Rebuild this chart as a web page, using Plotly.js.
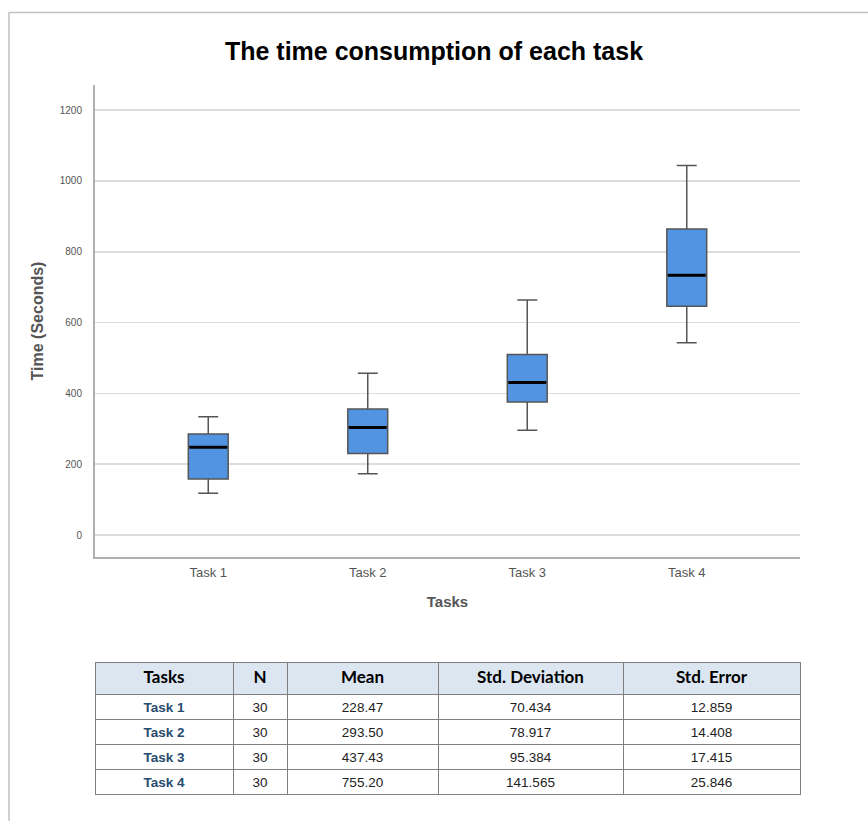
<!DOCTYPE html>
<html>
<head>
<meta charset="utf-8">
<script src="https://cdn.plot.ly/plotly-3.0.1.min.js"></script>
<style>
  html, body { margin: 0; padding: 0; background: #fff; }
  #chart { width: 868px; height: 821px; }
</style>
</head>
<body>
<div id="chart"></div>
<script>
// ---- data ----
const tasks = ["Task 1", "Task 2", "Task 3", "Task 4"];
const lowerWhisker = [118, 173, 296, 543];
const q1Values = [158, 230, 376, 646];
const medianValues = [248, 304, 431, 734];
const q3Values = [285, 356, 510, 864];
const upperWhisker = [334, 457, 664, 1044];

const tableHeader = ["Tasks", "N", "Mean", "Std. Deviation", "Std. Error"];
const nValues = ["30", "30", "30", "30"];
const meanValues = ["228.47", "293.50", "437.43", "755.20"];
const stdDevValues = ["70.434", "78.917", "95.384", "141.565"];
const stdErrValues = ["12.859", "14.408", "17.415", "25.846"];

const yTicks = [0, 200, 400, 600, 800, 1000, 1200];

// ---- traces ----
const boxTrace = {
  type: "box",
  x: tasks,
  q1: q1Values,
  median: medianValues,
  q3: q3Values,
  lowerfence: lowerWhisker,
  upperfence: upperWhisker,
  boxpoints: false,
  width: 0.25,
  whiskerwidth: 0.5,
  fillcolor: "#5294e2",
  line: { color: "#555555", width: 1.5 },
  hoverinfo: "skip",
  showlegend: false,
  xaxis: "x", yaxis: "y"
};

const medianTrace = {
  type: "scatter",
  mode: "markers",
  x: tasks,
  y: medianValues,
  marker: { symbol: "line-ew", size: 27, color: "#000", line: { color: "#000", width: 3 } },
  hoverinfo: "skip",
  showlegend: false,
  xaxis: "x", yaxis: "y"
};

const tableTrace = {
  type: "table",
  domain: { x: [0, 1], y: [0, 0.1896] },
  columnwidth: [138, 54, 151, 185, 177],
  header: {
    values: tableHeader,
    align: "center",
    height: 32,
    fill: { color: "#dce6f1" },
    line: { color: "#7f7f7f", width: 1 },
    font: { family: "Lato, 'Open Sans', sans-serif", size: 17, color: "#000", weight: "bold" }
  },
  cells: {
    values: [tasks, nValues, meanValues, stdDevValues, stdErrValues],
    align: "center",
    height: 25,
    fill: { color: "#ffffff" },
    line: { color: "#7f7f7f", width: 1 },
    font: {
      family: "'Liberation Sans', Arial, sans-serif",
      size: 13.5,
      color: ["#264b6e", "#222", "#222", "#222", "#222"],
      weight: ["bold", "normal", "normal", "normal", "normal"]
    }
  }
};

// ---- layout ----
const layout = {
  width: 868,
  height: 821,
  paper_bgcolor: "#ffffff",
  plot_bgcolor: "#ffffff",
  margin: { l: 95, r: 68, t: 85, b: 24, pad: 0 },
  font: { family: "'Liberation Sans', Arial, sans-serif", color: "#555" },
  title: {
    text: "<b>The time consumption of each task</b>",
    font: { family: "'Liberation Sans', Arial, sans-serif", size: 25, color: "#000" },
    x: 0.5, xanchor: "center",
    y: 1 - 51 / 821, yanchor: "middle"
  },
  xaxis: {
    type: "category",
    range: [-0.71, 3.71],
    showline: true, linecolor: "#b0b0b0", linewidth: 2,
    showgrid: false, zeroline: false,
    ticks: "", ticklabelstandoff: 2,
    tickfont: { size: 13, color: "#555" },
    title: { text: "<b>Tasks</b>", font: { size: 15, color: "#555" }, standoff: 18 },
    fixedrange: true
  },
  yaxis: {
    domain: [0.3371, 1],
    range: [-62, 1271],
    tickvals: yTicks,
    showline: true, linecolor: "#b0b0b0", linewidth: 2,
    showgrid: true, gridcolor: "#dcdcdc", gridwidth: 1.5,
    zeroline: false,
    ticks: "", ticklabelstandoff: 9,
    tickfont: { size: 10, color: "#555" },
    title: { text: "<b>Time (Seconds)</b>", font: { size: 16, color: "#555" }, standoff: 12 },
    fixedrange: true
  },
  shapes: [
    { type: "line", xref: "paper", yref: "paper", x0: -0.122, x1: -0.122, y0: 1.102, y1: -0.05,
      line: { color: "#c0c0c0", width: 1.5 } },
    { type: "line", xref: "paper", yref: "paper", x0: -0.122, x1: 1.12, y0: 1.102, y1: 1.102,
      line: { color: "#c0c0c0", width: 1.5 } }
  ]
};

Plotly.newPlot("chart", [boxTrace, medianTrace, tableTrace], layout, { displayModeBar: false, staticPlot: true });
</script>
</body>
</html>
